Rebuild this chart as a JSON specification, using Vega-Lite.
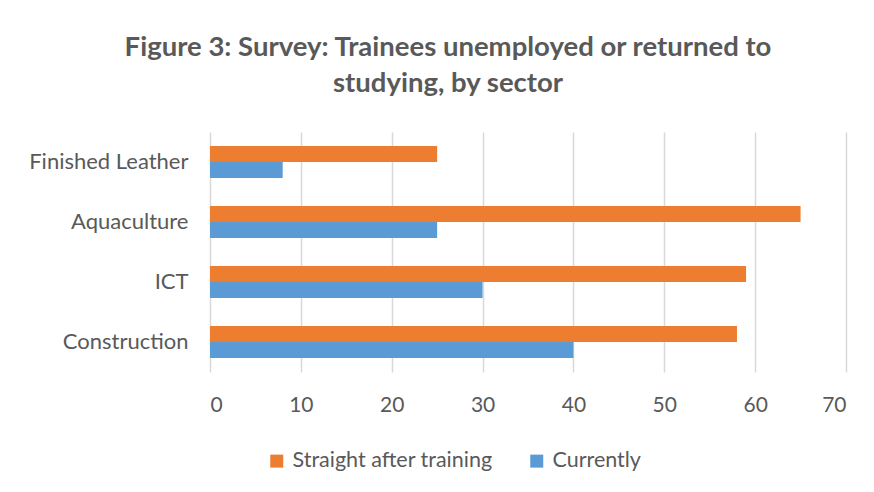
{
  "$schema": "https://vega.github.io/schema/vega-lite/v6.json",
  "width": 636,
  "height": 240,
  "autosize": {"type": "none"},
  "padding": {"left": 210, "top": 132, "right": 28, "bottom": 120},
  "background": "white",
  "config": {
    "font": "Lato",
    "view": {"stroke": null}
  },
  "title": {
    "text": ["Figure 3: Survey: Trainees unemployed or returned to", "studying, by sector"],
    "font": "Lato",
    "fontSize": 27.5,
    "fontWeight": "bold",
    "color": "#595959",
    "anchor": "middle",
    "dx": -80,
    "offset": 35,
    "lineHeight": 36
  },
  "data": {
    "values": [
      {"sector": "Finished Leather", "series": "Straight after training", "value": 25},
      {"sector": "Finished Leather", "series": "Currently", "value": 8},
      {"sector": "Aquaculture", "series": "Straight after training", "value": 65},
      {"sector": "Aquaculture", "series": "Currently", "value": 25},
      {"sector": "ICT", "series": "Straight after training", "value": 59},
      {"sector": "ICT", "series": "Currently", "value": 30},
      {"sector": "Construction", "series": "Straight after training", "value": 58},
      {"sector": "Construction", "series": "Currently", "value": 40}
    ]
  },
  "mark": {"type": "bar"},
  "encoding": {
    "y": {
      "field": "sector",
      "type": "nominal",
      "sort": ["Finished Leather", "Aquaculture", "ICT", "Construction"],
      "scale": {"paddingInner": 0.467, "paddingOuter": 0.233},
      "axis": {
        "title": null,
        "domain": false,
        "ticks": false,
        "labelFontSize": 22,
        "labelColor": "#595959",
        "labelPadding": 22,
        "labelFont": "Lato",
        "labelLimit": 300
      }
    },
    "yOffset": {
      "field": "series",
      "type": "nominal",
      "sort": ["Straight after training", "Currently"],
      "scale": {"paddingInner": 0, "paddingOuter": 0}
    },
    "x": {
      "field": "value",
      "type": "quantitative",
      "scale": {"domain": [0, 70], "nice": false},
      "axis": {
        "title": null,
        "values": [0, 10, 20, 30, 40, 50, 60, 70],
        "domain": false,
        "ticks": false,
        "grid": true,
        "gridColor": "#d9d9d9",
        "gridWidth": 1.5,
        "labelFontSize": 21,
        "labelColor": "#595959",
        "labelPadding": 22,
        "labelFont": "Lato"
      }
    },
    "color": {
      "field": "series",
      "type": "nominal",
      "sort": ["Straight after training", "Currently"],
      "scale": {"domain": ["Straight after training", "Currently"], "range": ["#ED7D31", "#5B9BD5"]},
      "legend": {
        "title": null,
        "orient": "none",
        "direction": "horizontal",
        "legendX": 56,
        "legendY": 318,
        "symbolType": "square",
        "symbolSize": 169,
        "symbolStrokeWidth": 0,
        "labelFontSize": 21.5,
        "labelColor": "#595959",
        "labelFont": "Lato",
        "labelOffset": 5,
        "labelLimit": 400,
        "columnPadding": 33
      }
    }
  }
}
